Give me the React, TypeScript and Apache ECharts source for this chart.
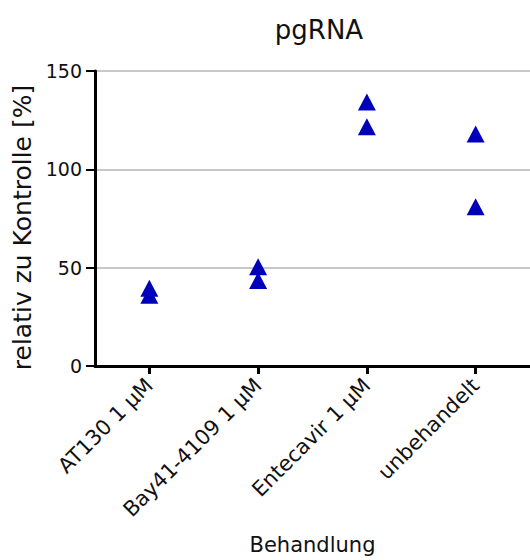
import React, { useEffect, useRef } from "react";
import * as echarts from "echarts";

const categories = ["AT130 1 µM", "Bay41-4109 1 µM", "Entecavir 1 µM", "unbehandelt"];
const replicateA = [39.5, 50.5, 134.3, 118.0];
const replicateB = [36.0, 43.5, 121.6, 81.0];
const yTicks = [0, 50, 100, 150];

const FONT = "DejaVu Sans";

export default function App() {
  const ref = useRef<HTMLDivElement>(null);
  useEffect(() => {
    if (!ref.current) return;
    document.body.style.margin = "0";
    document.body.style.overflow = "hidden";
    const chart = echarts.init(ref.current, undefined, { renderer: "svg" });
    const points: [number, number][] = [];
    categories.forEach((_, i) => {
      points.push([i, replicateA[i]]);
      points.push([i, replicateB[i]]);
    });
    chart.setOption({
      animation: false,
      backgroundColor: "#ffffff",
      title: {
        text: "pgRNA",
        left: 314,
        top: 12,
        textAlign: "center",
        textStyle: { fontFamily: FONT, fontSize: 26, fontWeight: "normal", color: "#111" },
      },
      grid: { left: 95, right: -3, top: 71, bottom: 193, containLabel: false },
      xAxis: {
        type: "category",
        data: categories,
        boundaryGap: true,
        name: "Behandlung",
        nameLocation: "middle",
        nameGap: 168,
        nameTextStyle: { fontFamily: FONT, fontSize: 21, color: "#111" },
        axisLine: { show: true, lineStyle: { color: "#000", width: 3 } },
        axisTick: { show: true, alignWithLabel: true, length: 8, lineStyle: { color: "#000", width: 3 } },
        axisLabel: { rotate: 45, fontFamily: FONT, fontSize: 21, color: "#111", margin: 16, interval: 0 },
        splitLine: { show: false },
      },
      yAxis: {
        type: "value",
        min: yTicks[0],
        max: yTicks[yTicks.length - 1],
        interval: 50,
        name: "relativ zu Kontrolle [%]",
        nameLocation: "middle",
        nameGap: 57,
        nameRotate: 90,
        nameTextStyle: { fontFamily: FONT, fontSize: 25, color: "#111", padding: [0, 18, 0, 0] },
        axisLine: { show: true, lineStyle: { color: "#000", width: 3 } },
        axisTick: { show: true, length: 9, lineStyle: { color: "#000", width: 2 } },
        axisLabel: { fontFamily: FONT, fontSize: 19, color: "#111", margin: 13 },
        splitLine: { show: true, lineStyle: { color: "#b4b4b4", width: 1.5 } },
      },
      series: [
        {
          type: "scatter",
          data: points,
          symbol: "triangle",
          symbolSize: [18, 17],
          itemStyle: { color: "#0000bb", opacity: 1 },
        },
      ],
    });
    return () => chart.dispose();
  }, []);
  return (
    <div style={{ width: 530, height: 560, overflow: "hidden", position: "absolute", left: 0, top: 0 }}>
      <div ref={ref} style={{ width: 530, height: 560 }} />
    </div>
  );
}
